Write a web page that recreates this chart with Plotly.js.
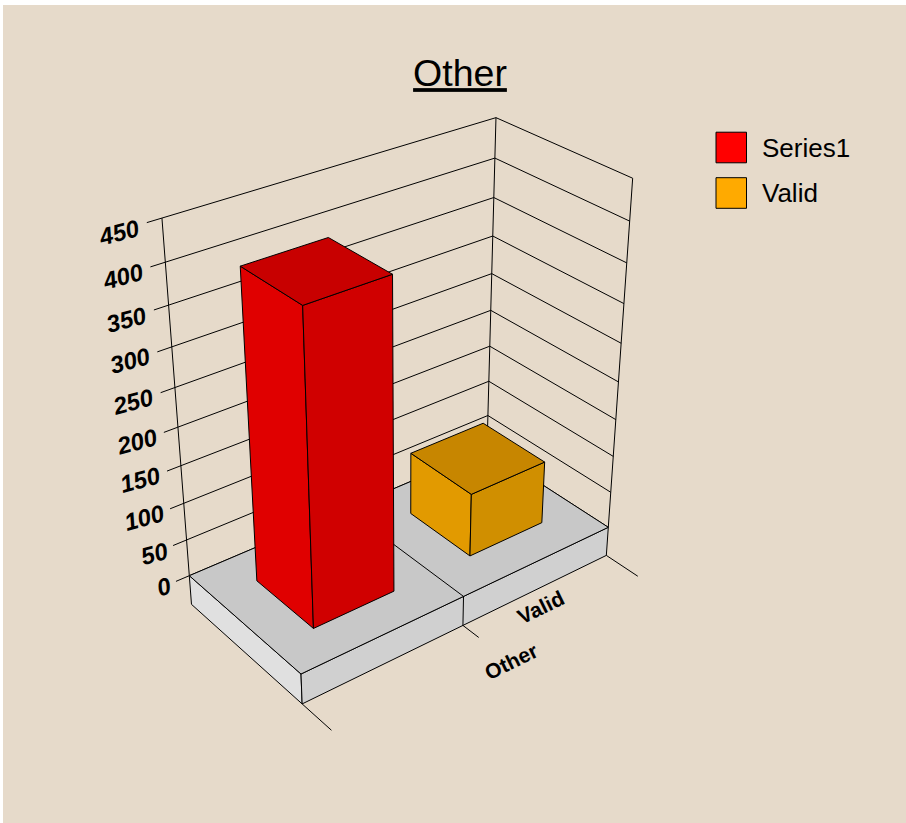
<!DOCTYPE html>
<html><head><meta charset="utf-8">
<script src="https://cdn.plot.ly/plotly-3.0.1.min.js"></script>
<style>html,body{margin:0;padding:0;background:#fff}</style>
</head><body><div id="chart" style="width:906px;height:823px"></div>
<script>
// ---- data ----
const categories = ['Other', 'Valid'];
const seriesNames = ['Series1', 'Valid'];
const seriesValues = [400, 86];
const valueTicks = [0, 50, 100, 150, 200, 250, 300, 350, 400, 450];
const chartTitle = 'Other';

// ---- styles ----
const barFaces = [
  {left: '#E00000', right: '#D00000', top: '#C80000', legend: '#FF0000'},
  {left: '#E29A00', right: '#D08F00', top: '#C78600', legend: '#FFAA00'}
];
const FONT = 'Liberation Sans, Arial, sans-serif';
const BG = '#E6DACA';
const categoryLabelPos = [[511, 661], [540, 607]];

// ---- 3D perspective scale: (u along categories 0..1, v depth 0..1, value) -> page ----
const VMAX = 450;
function project(u, v, val) {
  const t = val / VMAX;
  const w = 0.12249 * u + 0.08216 * v - 0.121 * t + 1;
  return [
    (381.81 * u - 96.15 * v - 49.2 * t + 301) / w,
    (-82.11 * u - 51.0 * v - 413.4 * t + 674) / w
  ];
}

const traces = [];
function poly(pts, fill, name) {
  const xs = [], ys = [];
  pts.forEach(p => { const q = project(p[0], p[1], p[2]); xs.push(q[0]); ys.push(q[1]); });
  const tr = {type: 'scatter', mode: 'lines', x: xs, y: ys, name: name || '', showlegend: false,
    hoverinfo: 'skip', line: {color: '#000', width: 1, simplify: false}};
  if (fill) { xs.push(xs[0]); ys.push(ys[0]); tr.fill = 'toself'; tr.fillcolor = fill; }
  traces.push(tr);
}

// walls and gridlines
valueTicks.forEach(val => {
  poly([[-0.04, 1, val], [1, 1, val], [1, 0, val]]);
});
poly([[0, 1, 0], [0, 1, VMAX]]);
poly([[1, 1, 0], [1, 1, VMAX]]);
poly([[1, 0, 0], [1, 0, VMAX]]);

// floor slab
const SLAB = -41;
poly([[0, 1, 0], [0, 0, 0], [0, 0, SLAB], [0, 1, SLAB]], '#E0E0E0');
poly([[0, 0, 0], [1, 0, 0], [1, 0, SLAB], [0, 0, SLAB]], '#D0D0D0');
poly([[0, 0, 0], [1, 0, 0], [1, 1, 0], [0, 1, 0]], '#C8C8C8');
poly([[0.5, 0, 0], [0.5, 1, 0]]);
poly([[0.5, 0, 0], [0.5, 0, SLAB]]);
// category ticks
poly([[0, 0, SLAB], [0, -0.24, SLAB]]);
poly([[0.5, 0, SLAB], [0.5, -0.125, SLAB]]);
poly([[1, 0, SLAB], [1, -0.24, SLAB]]);

// bars
const n = categories.length;
seriesValues.forEach((val, i) => {
  const u0 = (i + 0.25) / n, u1 = (i + 0.75) / n, v0 = 0.25, v1 = 0.75, c = barFaces[i], nm = seriesNames[i];
  poly([[u0, v0, 0], [u0, v1, 0], [u0, v1, val], [u0, v0, val]], c.left, nm);
  poly([[u0, v0, 0], [u1, v0, 0], [u1, v0, val], [u0, v0, val]], c.right, nm);
  poly([[u0, v0, val], [u1, v0, val], [u1, v1, val], [u0, v1, val]], c.top, nm);
});

// value labels
const annotations = valueTicks.map(val => {
  const p = project(0, 1, val);
  return {x: p[0] - 13 - 4 * val / VMAX, y: p[1] + (val === 0 ? 10.5 : 14), xref: 'x', yref: 'y',
    text: '<b><i>' + val + '</i></b>', showarrow: false,
    xanchor: 'right', yanchor: 'middle', textangle: -15, font: {family: FONT, size: 24, color: '#000'}};
});
// category labels
categories.forEach((cat, i) => {
  annotations.push({x: categoryLabelPos[i][0], y: categoryLabelPos[i][1], xref: 'x', yref: 'y', text: '<b>' + cat + '</b>', showarrow: false,
    textangle: -26, font: {family: FONT, size: 21, color: '#000'}});
});
// legend
const shapes = [{type: 'rect', xref: 'x', yref: 'y', x0: 3, x1: 906, y0: 5, y1: 823, fillcolor: BG, line: {width: 0}, layer: 'below'}];
seriesNames.forEach((nm, i) => {
  const cy = 147.5 + 45.5 * i;
  shapes.push({type: 'rect', xref: 'x', yref: 'y', x0: 716, x1: 746.5, y0: cy - 15.3, y1: cy + 15.3,
    fillcolor: barFaces[i].legend, line: {color: '#000', width: 1}});
  annotations.push({x: 760, y: cy, xref: 'x', yref: 'y', text: nm, showarrow: false, xanchor: 'left', yanchor: 'middle',
    font: {family: FONT, size: 26, color: '#000'}});
});

const hidden = {visible: false, fixedrange: true};
Plotly.newPlot('chart', traces, {
  width: 906, height: 823,
  margin: {l: 0, r: 0, t: 0, b: 0},
  paper_bgcolor: '#fff', plot_bgcolor: 'rgba(0,0,0,0)',
  showlegend: false,
  title: {text: '<u>' + chartTitle + '</u>', x: 460 / 906, xanchor: 'center', y: 1 - 73 / 823, yanchor: 'middle',
    font: {family: FONT, size: 37.5, color: '#000'}},
  xaxis: Object.assign({range: [0, 906]}, hidden),
  yaxis: Object.assign({range: [823, 0]}, hidden),
  shapes, annotations
}, {displayModeBar: false, staticPlot: true});
</script></body></html>
